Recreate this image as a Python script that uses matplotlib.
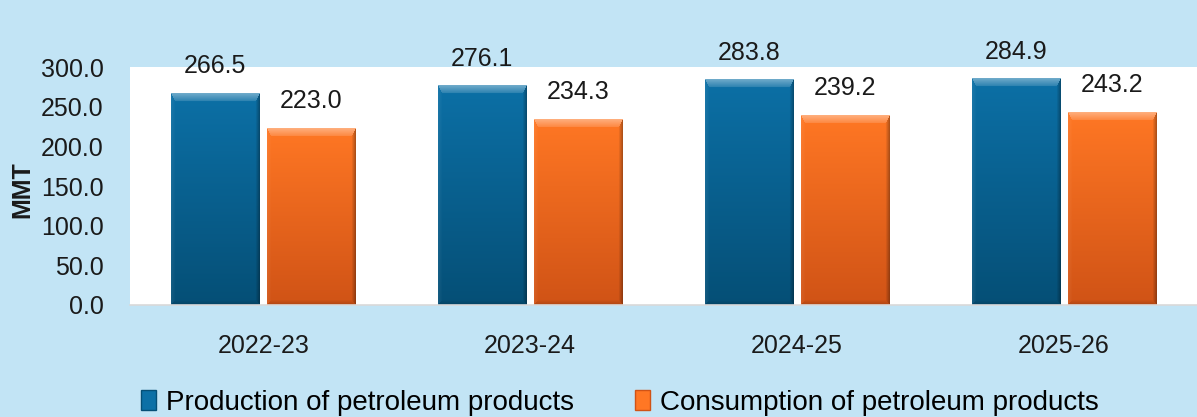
import numpy as np
import matplotlib
matplotlib.use('Agg')
import matplotlib.pyplot as plt
from matplotlib.patches import Patch
from matplotlib.colors import to_rgb

plt.rcParams['font.family'] = ['Liberation Sans', 'DejaVu Sans']

# 数据
years = ['2022-23', '2023-24', '2024-25', '2025-26']
production = [266.5, 276.1, 283.8, 284.9]
consumption = [223.0, 234.3, 239.2, 243.2]
series_names = ['Production of petroleum products', 'Consumption of petroleum products']
title = 'Production and Consumption of Petroleum Products (MMT)'

# 颜色
bg = '#C2E4F5'
blue_top, blue_bot = '#0C70A6', '#054F76'
orange_top, orange_bot = '#FF7724', '#D05316'


def shade_bar(ax, bar, top, bot):
    """给柱子加上渐变和斜边效果"""
    x0, y0 = bar.get_x(), bar.get_y()
    bw, bh = bar.get_width(), bar.get_height()
    p0 = ax.transData.transform((x0, y0))
    p1 = ax.transData.transform((x0 + bw, y0 + bh))
    nw = max(int(round(p1[0] - p0[0])), 2)
    nh = max(int(round(p1[1] - p0[1])), 2)

    t = np.linspace(0, 1, nh)[:, None]
    col = (1 - t) * np.array(to_rgb(top)) + t * np.array(to_rgb(bot))
    img = np.repeat(col[:, None, :], nw, axis=1)

    # 斜边: 上8像素, 下5像素, 左右4像素
    ii, jj = np.mgrid[0:nh, 0:nw]
    widths = np.array([8.0, 5.0, 4.0, 4.0])
    d = np.stack([ii, nh - 1 - ii, jj, nw - 1 - jj]).astype(float)
    dn = d / widths[:, None, None]
    side = np.argmin(dn, axis=0)
    near = np.min(dn, axis=0) < 1
    f = 1 - np.min(dn, axis=0)  # 边缘处为1

    top_m = near & (side == 0)
    a = (0.12 + 0.28 * f[top_m])[:, None]
    img[top_m] = img[top_m] * (1 - a) + a
    left_m = near & (side == 2)
    a = (0.06 * f[left_m])[:, None]
    img[left_m] = img[left_m] * (1 - a) + a
    right_m = near & (side == 3)
    img[right_m] = img[right_m] * (1 - 0.3 * f[right_m])[:, None]
    bot_m = near & (side == 1)
    img[bot_m] = img[bot_m] * (1 - 0.15 * f[bot_m])[:, None]

    ax.imshow(np.clip(img, 0, 1), extent=(x0, x0 + bw, y0, y0 + bh), origin='upper',
              aspect='auto', interpolation='bilinear', zorder=bar.get_zorder() + 0.1)


fig = plt.figure(figsize=(11.97, 4.17), dpi=100, facecolor=bg)
ax = fig.add_axes([0.1086, 0.2686, 0.8914, 0.5707])
ax.set_facecolor('white')

x = np.arange(len(years))
w = 0.33
off = 0.18
bars_p = ax.bar(x - off, production, w, color=blue_top, zorder=2)
bars_c = ax.bar(x + off, consumption, w, color=orange_top, zorder=2)
ax.set_xlim(-0.5, 3.5)
ax.set_ylim(0, 300)

for b in bars_p:
    shade_bar(ax, b, blue_top, blue_bot)
for b in bars_c:
    shade_bar(ax, b, orange_top, orange_bot)
ax.set_xlim(-0.5, 3.5)
ax.set_ylim(0, 300)

# 数值标签
for bars, vals in [(bars_p, production), (bars_c, consumption)]:
    for b, v in zip(bars, vals):
        ax.annotate('%.1f' % v, (b.get_x() + b.get_width() / 2, v), xytext=(0, 11),
                    textcoords='offset points', ha='center', va='bottom',
                    fontsize=18, color='#1a1a1a', annotation_clip=False)

# 坐标轴
ax.set_xticks(x)
ax.set_xticklabels(years)
ax.set_yticks(np.arange(0, 301, 50))
ax.set_yticklabels(['%.1f' % v for v in np.arange(0, 301, 50)])
ax.tick_params(axis='x', length=0, pad=21, labelsize=18, labelcolor='#1a1a1a')
ax.tick_params(axis='y', length=0, pad=19, labelsize=18, labelcolor='#1a1a1a')
for s in ['top', 'right', 'left']:
    ax.spines[s].set_visible(False)
ax.spines['bottom'].set_color('#D9D9D9')
ax.spines['bottom'].set_linewidth(1.2)

fig.text(22 / 1197, 1 - 190 / 417, 'MMT', rotation=90, ha='center', va='center',
         fontsize=18, fontweight='bold', color='#1a1a1a')

# 标题（上方被截掉，只露出下伸部分）
fig.text(0.487, 1.014, title, ha='center', va='baseline', fontsize=18,
         fontweight='bold', color='#1a1a1a')

# 图例
handles = [Patch(facecolor=blue_top, edgecolor=blue_bot), Patch(facecolor=orange_top, edgecolor=orange_bot)]
fig.legend(handles, series_names, loc='center', bbox_to_anchor=(620 / 1197, 1 - 403 / 417),
           ncol=2, frameon=False, fontsize=20, columnspacing=2.2, handletextpad=0.35,
           handlelength=0.55, handleheight=0.75, borderaxespad=0)

fig.savefig('out.png', dpi=100, facecolor=bg)
